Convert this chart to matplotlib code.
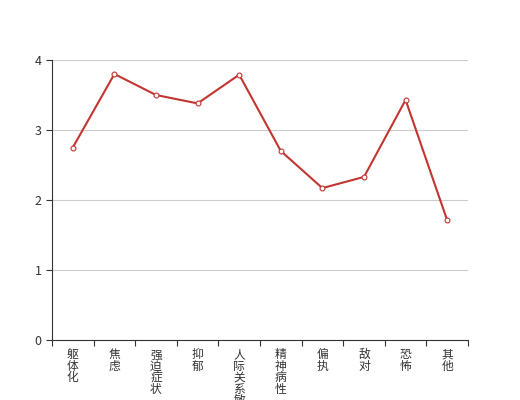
import matplotlib.pyplot as plt
import numpy as np

plt.rcParams['font.family'] = ['Noto Sans CJK SC', 'DejaVu Sans']

# 各因子得分
categories = ['躯体化', '焦虑', '强迫症状', '抑郁', '人际关系敏感',
              '精神病性', '偏执', '敌对', '恐怖', '其他']
scores = [2.75, 3.80, 3.50, 3.38, 3.79, 2.70, 2.17, 2.33, 3.43, 1.71]
yticks = [0, 1, 2, 3, 4]

fig = plt.figure(figsize=(5.2, 4.0), dpi=100)
ax = fig.add_axes([0.1, 0.15, 0.8, 0.7])

x = np.arange(len(categories)) + 0.5
ax.plot(x, scores, color='#c23531', linewidth=1.5, marker='o', markersize=3.5,
        markerfacecolor='white', markeredgecolor='#c23531', markeredgewidth=0.8,
        zorder=3, clip_on=False)

ax.set_xlim(0, len(categories))
ax.set_ylim(0, 4)
ax.set_yticks(yticks)
ax.yaxis.grid(True, color='#cccccc', linewidth=0.8)
ax.set_axisbelow(True)

# 分类边界刻度
ax.set_xticks(np.arange(len(categories) + 1))
ax.set_xticklabels([])
ax.set_xticks(x, minor=True)
ax.set_xticklabels(['\n'.join(c) for c in categories], minor=True,
                   fontsize=8.5, color='#333333', va='top', linespacing=0.84)
ax.tick_params(axis='x', which='major', length=4, color='#333333', direction='out')
ax.tick_params(axis='x', which='minor', length=0, pad=6)
ax.tick_params(axis='y', length=4, color='#333333', labelsize=9, labelcolor='#333333')

for side in ['top', 'right']:
    ax.spines[side].set_visible(False)
for side in ['left', 'bottom']:
    ax.spines[side].set_color('#333333')
    ax.spines[side].set_linewidth(0.8)

fig.savefig('out.png', dpi=100)
